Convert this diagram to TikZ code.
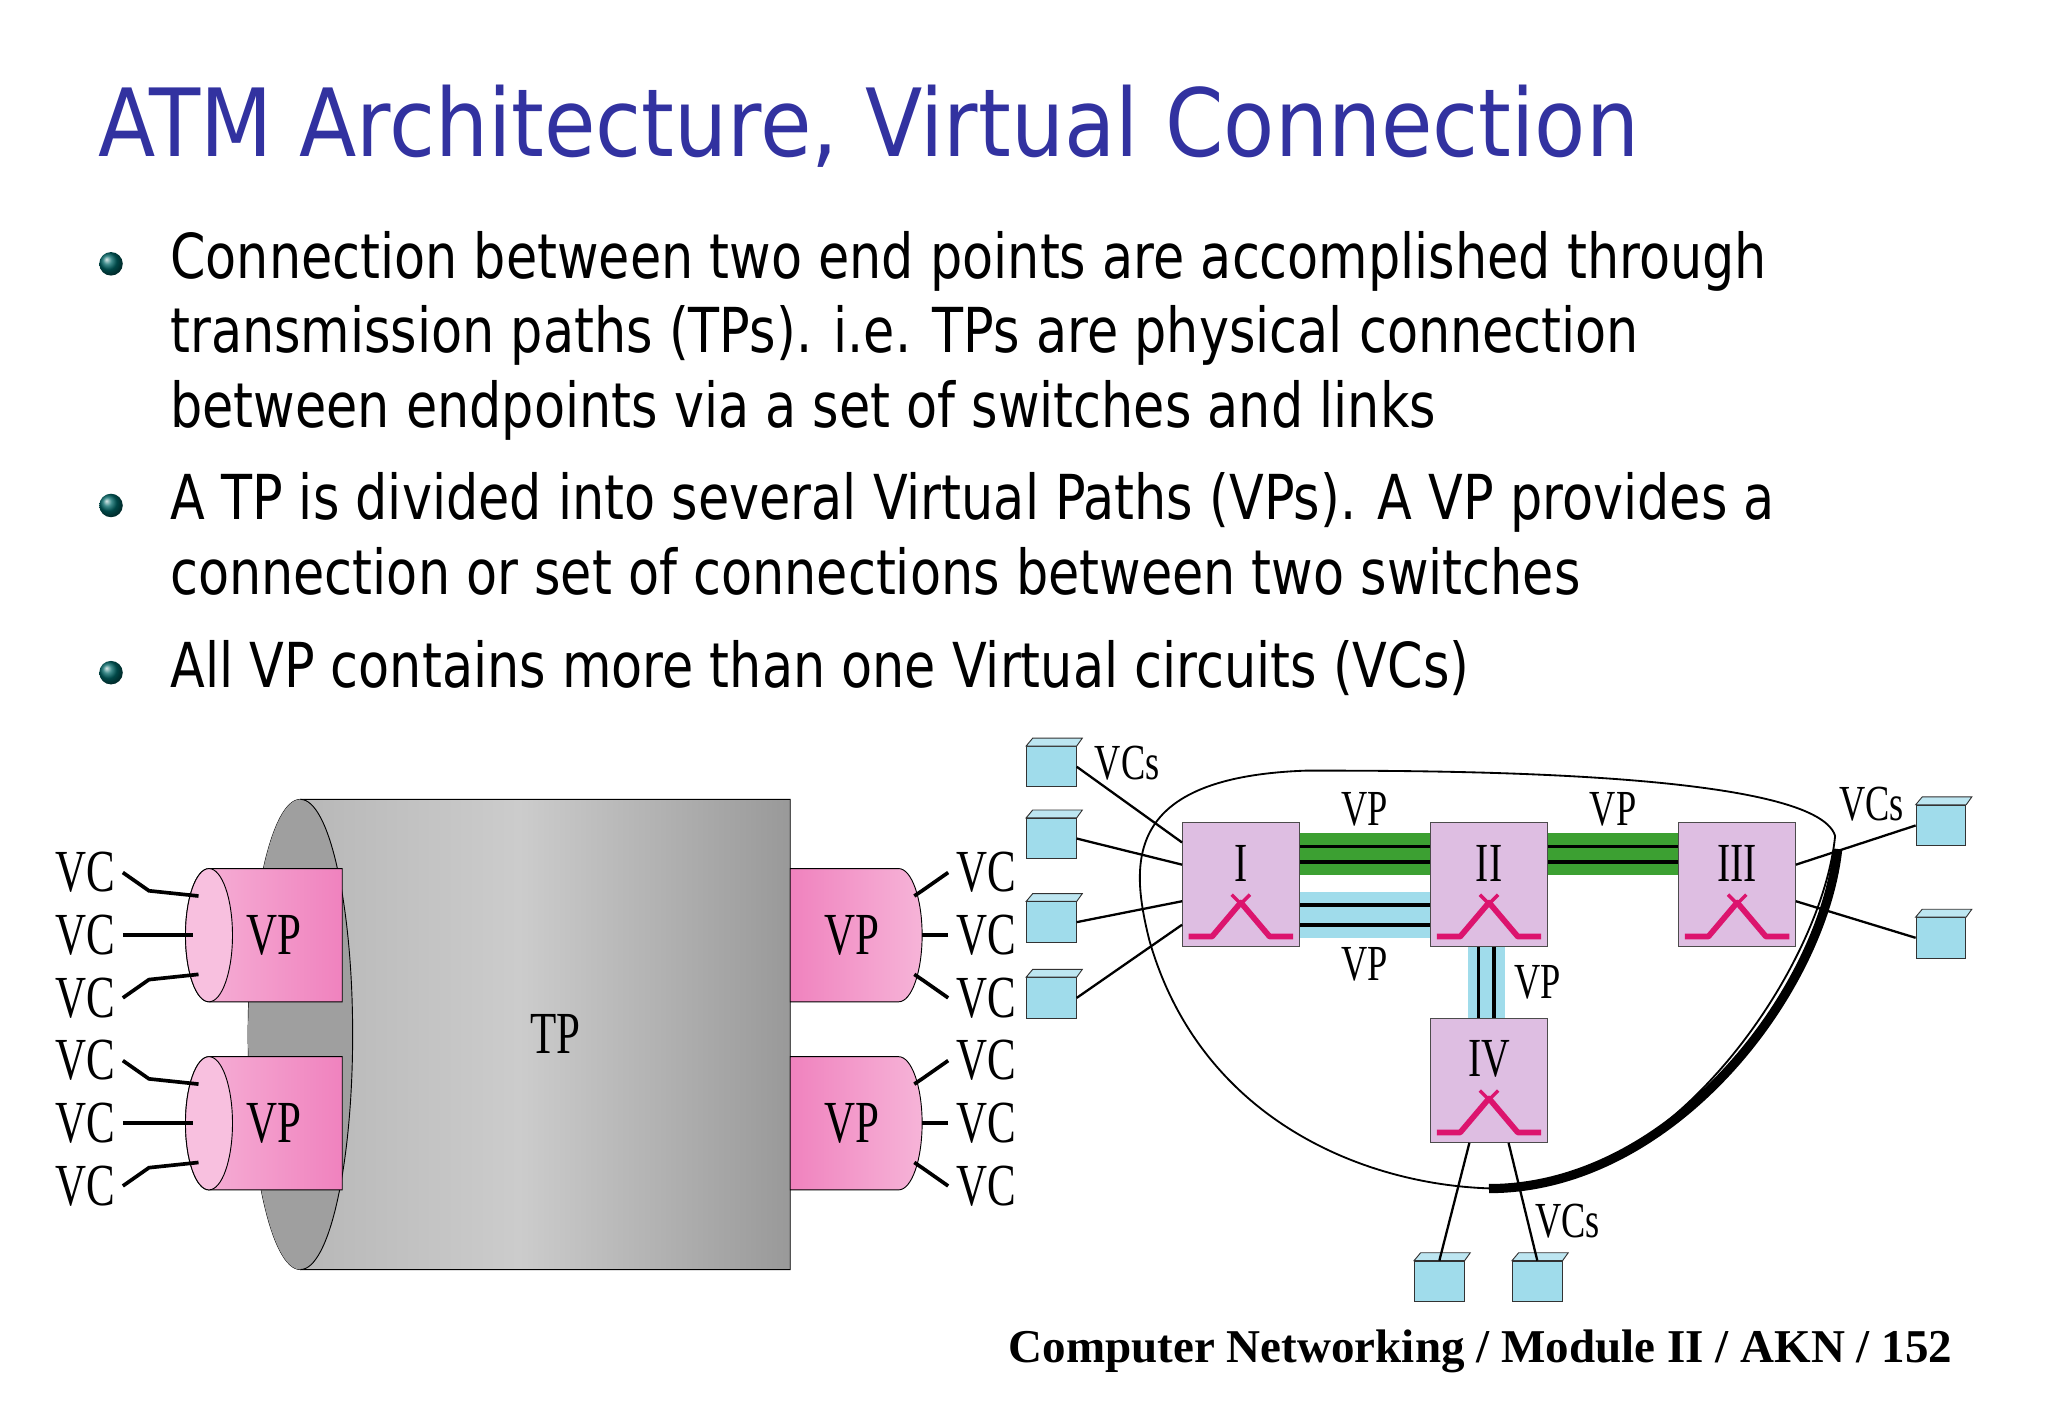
\documentclass[tikz,border=0pt]{standalone}
\usepackage{fontspec}
\setmainfont{DejaVu Sans}
\newfontfamily\serifb{Liberation Serif}
\usetikzlibrary{shapes.geometric}
\definecolor{titleblue}{RGB}{50,50,160}
\definecolor{lav}{RGB}{222,190,226}
\definecolor{cyanb}{RGB}{160,220,235}
\definecolor{pinkc}{RGB}{240,130,190}
\definecolor{vpgreen}{RGB}{60,160,50}
\definecolor{swpink}{RGB}{220,20,110}
\newcommand{\sq}[1]{\scalebox{0.82}[1]{#1}}
\newcommand{\vq}[1]{\scalebox{0.72}[1]{#1}}
\tikzset{
  sw/.style={draw=black!70,fill=lav,minimum width=1.8cm,minimum height=1.9cm,inner sep=0pt},
  term/.style={draw=black!80,fill=cyanb,minimum width=0.76cm,minimum height=0.62cm,inner sep=0pt},
  lab/.style={font=\serifb\fontsize{22}{22}\selectfont},
  big/.style={font=\serifb\fontsize{26}{26}\selectfont},
  body/.style={font=\fontsize{27}{32}\selectfont,anchor=base west,inner sep=0pt},
  bul/.style={circle,shading=ball,ball color=teal!80!black,minimum size=0.36cm,inner sep=0pt},
  vcl/.style={line width=1.6pt}
}
\begin{document}
\begin{tikzpicture}[x=0.02cm,y=-0.02cm]
\useasboundingbox (0,0) rectangle (1568,1085);
\fill[white] (0,0) rectangle (1568,1085);
\node[anchor=base west,inner sep=0pt,text=titleblue,font=\fontsize{41}{41}\selectfont] (title) at (75,120) {\scalebox{0.89}[1]{ATM Architecture, Virtual Connection}};
\node[bul] (b1) at (85,202) {};
\node[bul] (b2) at (85,387) {};
\node[bul] (b3) at (85,515) {};
\node[body] (t1a) at (130,213) {\sq{Connection between two end points are accomplished through}};
\node[body] (t1b) at (130,270) {\sq{transmission paths (TPs). i.e. TPs are physical connection}};
\node[body] (t1c) at (130,327) {\sq{between endpoints via a set of switches and links}};
\node[body] (t2a) at (130,398) {\sq{A TP is divided into several Virtual Paths (VPs). A VP provides a}};
\node[body] (t2b) at (130,455) {\sq{connection or set of connections between two switches}};
\node[body] (t3) at (130,526) {\sq{All VP contains more than one Virtual circuits (VCs)}};
% left: cylinder
\shade[left color=gray!60,right color=gray!80,middle color=gray!40,draw=black] (230,612) -- (605,612) -- (605,972) -- (230,972) arc[start angle=90,end angle=270,x radius=40,y radius=180] -- cycle;
\fill[gray!75] (230,792) ellipse[x radius=40,y radius=180];
\draw (230,612) arc[start angle=-90,end angle=90,x radius=40,y radius=180];
\node[big] (tp) at (425,792) {\vq{TP}};
\foreach \yc/\nm in {716/a,860/b}{
  \shade[left color=pinkc!60,right color=pinkc,draw=black] (160,\yc-51) -- (262,\yc-51) -- (262,\yc+51) -- (160,\yc+51) arc[start angle=90,end angle=270,x radius=18,y radius=51] -- cycle;
  \draw[fill=pinkc!50] (160,\yc) ellipse[x radius=18,y radius=51];
  \node[big] (lvp\nm) at (210,\yc) {\vq{VP}};
  \shade[left color=pinkc,right color=pinkc!60,draw=black] (605,\yc-51) -- (688,\yc-51) arc[start angle=-90,end angle=90,x radius=18,y radius=51] -- (605,\yc+51) -- cycle;
  \node[big] (rvp\nm) at (652,\yc) {\vq{VP}};
  \foreach \dy/\k in {-48/1,0/2,48/3}{
    \node[big] (lvc\nm\k) at (65,\yc+\dy) {\vq{VC}};
    \node[big] (rvc\nm\k) at (755,\yc+\dy) {\vq{VC}};
  }
  \draw[vcl] (lvc\nm1.east) -- ++(20,14) -- (152,\yc-30);
  \draw[vcl] (lvc\nm2.east) -- (148,\yc);
  \draw[vcl] (lvc\nm3.east) -- ++(20,-14) -- (152,\yc+30);
  \draw[vcl] (rvc\nm1.west) -- ++(-20,14) -- (700,\yc-30);
  \draw[vcl] (rvc\nm2.west) -- (706,\yc);
  \draw[vcl] (rvc\nm3.west) -- ++(-20,-14) -- (700,\yc+30);
}
% right network cloud
\draw[line width=0.8pt] (1405,640) .. controls (1390,590) and (1100,590) .. (1000,590) .. controls (860,595) and (865,660) .. (880,720) .. controls (920,860) and (1050,910) .. (1150,910) .. controls (1280,910) and (1395,740) .. (1405,640);
\draw[line width=4pt] (1407,650) .. controls (1395,760) and (1280,910) .. (1140,910);
\fill[vpgreen] (995,638) rectangle (1095,670);
\fill[vpgreen] (1185,638) rectangle (1285,670);
\draw[line width=1.6pt] (995,648) -- (1095,648) (995,660) -- (1095,660) (1185,648) -- (1285,648) (1185,660) -- (1285,660);
\fill[cyanb] (995,683) rectangle (1095,718);
\draw[line width=1.6pt] (995,693) -- (1095,693) (995,708) -- (1095,708);
\fill[cyanb] (1124,725) rectangle (1152,780);
\draw[line width=1.6pt] (1132,725) -- (1132,780) (1144,725) -- (1144,780);
\foreach \nm/\x/\y/\t in {s1/950/677/I,s2/1140/677/II,s3/1330/677/III,s4/1140/827/IV}{
  \node[sw] (\nm) at (\x,\y) {};
  \node[lab,font=\serifb\fontsize{24}{24}\selectfont] (\nm t) at (\x,\y-16) {\vq{\t}};
  \draw[swpink,line width=2.5pt,line join=round] (\x-40,\y+40) -- (\x-22,\y+40) -- (\x,\y+14) -- (\x+22,\y+40) -- (\x+40,\y+40);
  \draw[swpink,line width=1.5pt] (\x-7,\y+8) -- (\x+7,\y+22) (\x+7,\y+8) -- (\x-7,\y+22);
}
\node[lab] (vp1) at (1045,620) {\vq{VP}};
\node[lab] (vp2) at (1235,620) {\vq{VP}};
\node[lab] (vp3) at (1045,738) {\vq{VP}};
\node[lab] (vp4) at (1177,752) {\vq{VP}};
\foreach \nm/\x/\y in {ta/805/587,tb/805/642,tc/805/706,td/805/764,te/1486/632,tf/1486/718,tg/1102/981,th/1177/981}{
  \node[term] (\nm) at (\x,\y) {};
  \draw[black!80,fill=cyanb!70] (\nm.north west) -- ++(5,-6) -- ++(38,0) -- (\nm.north east) -- cycle;
}
\draw[line width=1pt] (ta.east) -- (905,645);
\draw[line width=1pt] (tb.east) -- (905,662);
\draw[line width=1pt] (tc.east) -- (905,690);
\draw[line width=1pt] (td.east) -- (905,708);
\draw[line width=1pt] (1375,662) -- (te.west);
\draw[line width=1pt] (1375,690) -- (tf.west);
\draw[line width=1pt] (1125,875) -- (tg.north);
\draw[line width=1pt] (1155,875) -- (th.north);
\node[lab] (vcs1) at (863,584) {\vq{VCs}};
\node[lab] (vcs2) at (1433,616) {\vq{VCs}};
\node[lab] (vcs3) at (1200,935) {\vq{VCs}};
\node[anchor=base east,inner sep=0pt,font=\serifb\bfseries\fontsize{20.5}{20.5}\selectfont] (foot) at (1495,1043) {Computer Networking / Module II / AKN / 152};
\end{tikzpicture}
\end{document}
